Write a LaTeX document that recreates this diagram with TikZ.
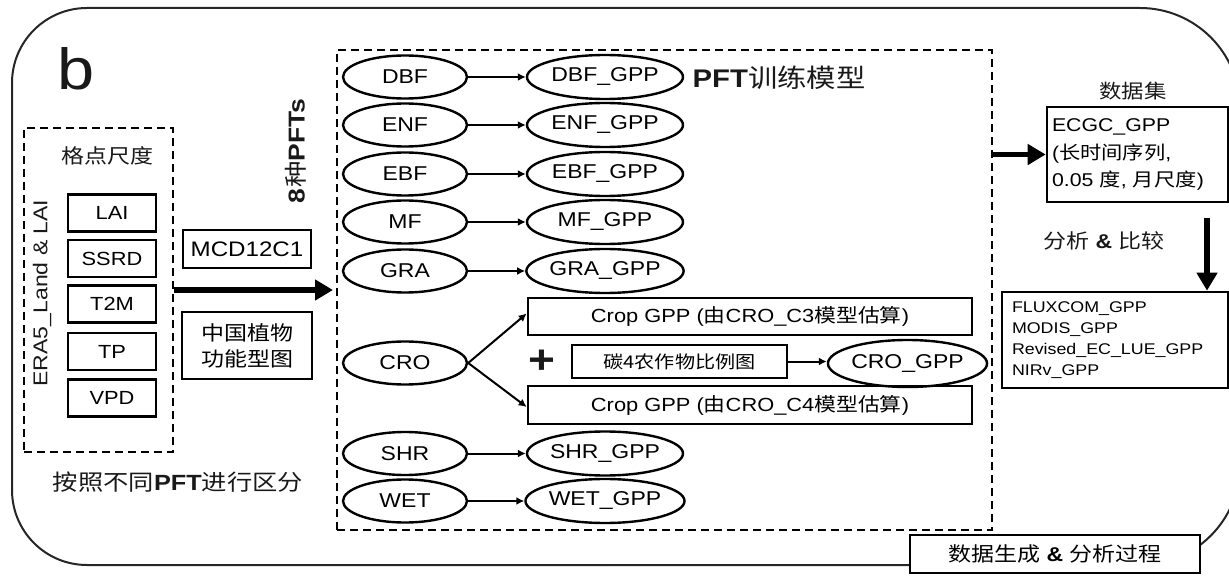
\documentclass[tikz,border=0pt]{standalone}
\usepackage{fontspec}
\setmainfont{Liberation Sans}[FakeStretch=1.15]
\newfontfamily\zhfont{Noto Sans CJK SC}[FakeStretch=1.15]
\newcommand\zh[1]{{\zhfont #1}}
\newcommand\fsz[2]{\fontsize{#1}{#2}\selectfont}
\usetikzlibrary{shapes.geometric,arrows.meta}
\tikzset{
  frame/.style={draw=black!85, line width=2pt},
  box/.style={draw, line width=2.6pt, inner sep=0pt},
  varbox/.style={box, minimum width=88pt, minimum height=37pt, font=\fsz{19}{22}},
  oval/.style={ellipse, draw, line width=2.4pt, inner sep=0pt, font=\fsz{20}{22}},
  pft/.style={oval, minimum width=124pt, minimum height=43pt},
  gpp/.style={oval, minimum width=156pt, minimum height=44pt},
  group/.style={draw, line width=2pt, dash pattern=on 8pt off 5pt, inner sep=0pt},
  thinarrow/.style={line width=2pt, -{Latex[length=8pt,width=8pt]}},
  bigarrow/.style={line width=5.5pt, -{Triangle[length=18pt,width=20pt]}},
  txt/.style={inner sep=0pt, text=black!90}
}
\begin{document}
\begin{tikzpicture}[x=1pt,y=-1pt]
\useasboundingbox (0,0) rectangle (1229,577);
% outer frame
\draw[frame, rounded corners=75pt] (600,8) -- (12,8) -- (12,565) -- (600,565);
\draw[frame, rounded corners=100pt] (600,8) -- (1240,8) -- (1240,565) -- (600,565);
% groups
\node[group, minimum width=149pt, minimum height=324pt] (leftgrp) at (98.5,290) {};
\node[group, minimum width=655pt, minimum height=480pt] (pftgrp) at (664.5,290) {};
% left part
\node[txt, font=\fsz{58}{60}] (blabel) at (76,69) {b};
\node[txt, font=\zhfont\fsz{20}{22}] (gridlbl) at (107,156) {格点尺度};
\node[txt, rotate=90, font=\fsz{20}{22}] (era) at (42,293) {ERA5\_Land \& LAI};
\node[varbox] (LAI) at (112,213) {LAI};
\node[varbox] (SSRD) at (112,258.5) {SSRD};
\node[varbox] (T2M) at (112,304) {T2M};
\node[varbox] (TP) at (112,351.5) {TP};
\node[varbox] (VPD) at (112,398) {VPD};
\node[box, minimum width=128pt, minimum height=38pt, font=\fsz{21}{24}] (mcd) at (247,249) {MCD12C1};
\node[box, minimum width=130pt, minimum height=67pt, align=center, font=\zhfont\fsz{20}{26}] (cnmap) at (247,345.5) {中国植物\\功能型图};
\node[txt, rotate=90, font=\fsz{23}{25}] (npft) at (296,151) {\textbf{8}\hspace{1pt}\zh{种}\textbf{PFTs}};
\node[txt, font=\fsz{22}{24}] (split) at (178,482) {\zh{按照不同}\textbf{PFT}\zh{进行区分}};
\draw[bigarrow] (leftgrp.east) -- ([xshift=-3pt]pftgrp.west |- leftgrp.east);
% PFT models
\foreach \n/\yy in {DBF/77, ENF/125, EBF/174, MF/222, GRA/271, SHR/453.5, WET/501} {
  \node[pft] (\n) at (405,\yy) {\n};
  \node[gpp] (g\n) at (605,\yy) {\n\_GPP};
  \draw[thinarrow] (\n) -- (g\n);
}
\node[txt, font=\fsz{25.5}{28}] (trainlbl) at (779,78) {\textbf{PFT}\zh{训练模型}};
\node[pft] (CRO) at (405,363) {CRO};
\node[box, minimum width=444pt, minimum height=37pt, font=\fsz{19}{22}] (c3) at (750,316.5) {Crop GPP (\zh{由}CRO\_C3\zh{模型估算})};
\node[box, minimum width=444pt, minimum height=38pt, font=\fsz{19}{22}] (c4) at (750,405) {Crop GPP (\zh{由}CRO\_C4\zh{模型估算})};
\node[txt, font=\bfseries\fsz{40}{40}] (plus) at (542,362) {+};
\node[box, minimum width=215pt, minimum height=33pt, font=\zhfont\fsz{17.5}{20}] (ratio) at (679.5,361.5) {碳4农作物比例图};
\node[oval, minimum width=155pt, minimum height=47pt] (crogpp) at (907.5,363.5) {CRO\_GPP};
\draw[thinarrow] (CRO.east) -- ([yshift=3pt]c3.west);
\draw[thinarrow] (CRO.east) -- ([yshift=-2pt]c4.west);
\draw[thinarrow] (ratio.east) -- (ratio.east -| crogpp.west);
% right part
\node[txt, font=\zhfont\fsz{19.5}{22}] (dslbl) at (1133,91) {数据集};
\node[box, text width=171pt, inner xsep=5pt, minimum height=95pt, align=left, font=\fsz{18.5}{27.5}] (ecgc) at (1137.5,154.5) {ECGC\_GPP\\(\zh{长时间序列},\\0.05 \zh{度}, \zh{月尺度})};
\draw[bigarrow] (pftgrp.east |- ecgc.west) -- (ecgc.west);
\node[txt, font=\fsz{20}{22}] (anlbl) at (1104,241) {\zh{分析} \textbf{\&} \zh{比较}};
\node[box, text width=206pt, inner xsep=10pt, minimum height=96pt, align=left, font=\fsz{15.5}{21}] (cmp) at (1115,340) {FLUXCOM\_GPP\\MODIS\_GPP\\Revised\_EC\_LUE\_GPP\\NIRv\_GPP};
\coordinate (dtop) at (1207,218);
\draw[bigarrow] (dtop) -- (dtop |- cmp.north);
\node[box, fill=white, minimum width=290pt, minimum height=38pt, font=\fsz{20}{22}] (proc) at (1055,554) {\zh{数据生成} \textbf{\&} \zh{分析过程}};
\end{tikzpicture}
\end{document}
